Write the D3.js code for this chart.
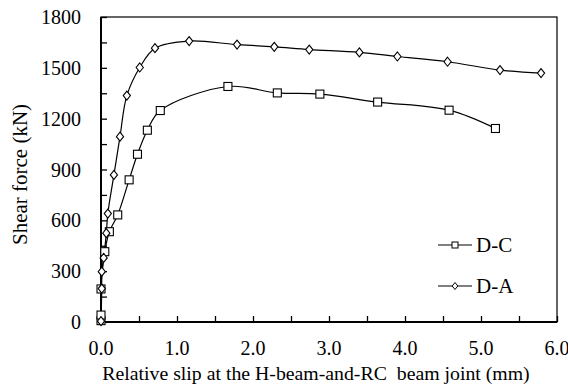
<!DOCTYPE html>
<html>
<head>
<meta charset="utf-8">
<script src="https://cdn.jsdelivr.net/npm/d3@7"></script>
<style>
  body { margin: 0; background: #fff; }
</style>
</head>
<body>
<svg width="568" height="389"></svg>
<script>
// D-A (diamonds)
var daSlip  = [0, 0.01, 0.01, 0.035, 0.07, 0.09, 0.17, 0.25, 0.34, 0.51, 0.71, 1.16, 1.79, 2.28, 2.74, 3.40, 3.90, 4.56, 5.25, 5.79];
var daForce = [5, 197, 297, 378, 524, 640, 868, 1094, 1336, 1502, 1616, 1658, 1637, 1624, 1608, 1591, 1567, 1536, 1487, 1469];
// D-C (squares)
var dcSlip  = [0, 0, 0, 0.05, 0.11, 0.22, 0.37, 0.48, 0.61, 0.78, 1.67, 2.32, 2.88, 3.64, 4.58, 5.19];
var dcForce = [8, 41, 195, 415, 533, 632, 839, 990, 1132, 1248, 1390, 1352, 1345, 1298, 1250, 1142];

var xTicks = [0, 1, 2, 3, 4, 5, 6];
var yTicks = [0, 300, 600, 900, 1200, 1500, 1800];

var serif = "'Liberation Serif', 'Times New Roman', serif";

var svg = d3.select("svg"),
    margin = {left: 101, right: 11, top: 17, bottom: 67},
    width = 568 - margin.left - margin.right,
    height = 389 - margin.top - margin.bottom;

var x = d3.scaleLinear().domain([0, 6]).range([0, width]);
var y = d3.scaleLinear().domain([0, 1800]).range([height, 0]);

var g = svg.append("g").attr("transform", "translate(" + margin.left + "," + margin.top + ")");

// frame
g.append("rect")
    .attr("width", width).attr("height", height)
    .attr("fill", "none").attr("stroke", "#000").attr("stroke-width", 1.2);

// minor + major ticks, pointing inward
g.append("g")
    .attr("transform", "translate(0," + height + ")")
    .call(d3.axisBottom(x).tickValues(d3.range(0, 6.01, 0.5)).tickSize(-6).tickFormat(""))
    .call(a => a.select(".domain").remove())
    .selectAll("line").attr("stroke-width", 1.3);
g.append("g")
    .call(d3.axisLeft(y).tickValues(d3.range(0, 1801, 150)).tickSize(-6).tickFormat(""))
    .call(a => a.select(".domain").remove())
    .selectAll("line").attr("stroke-width", 1.3);

// main axis lines
g.append("line").attr("x1", 0).attr("x2", width).attr("y1", height).attr("y2", height)
    .attr("stroke", "#000").attr("stroke-width", 2);
g.append("line").attr("x1", 0).attr("x2", 0).attr("y1", 0).attr("y2", height)
    .attr("stroke", "#000").attr("stroke-width", 2);

// tick labels
g.selectAll(".xl").data(xTicks).enter().append("text")
    .attr("x", d => x(d)).attr("y", height + 33)
    .attr("text-anchor", "middle")
    .style("font-family", serif).style("font-size", "20px")
    .text(d => d.toFixed(1));
g.selectAll(".yl").data(yTicks).enter().append("text")
    .attr("x", -20).attr("y", d => y(d) + 7)
    .attr("text-anchor", "end")
    .style("font-family", serif).style("font-size", "20px")
    .text(d => d);

// axis titles
svg.append("text")
    .attr("x", 316).attr("y", 380)
    .attr("text-anchor", "middle")
    .style("font-family", serif).style("font-size", "19.8px")
    .style("white-space", "pre")
    .text("Relative slip at the H-beam-and-RC  beam joint (mm)");
svg.append("text")
    .attr("transform", "translate(27," + (margin.top + height / 2 + 5) + ") rotate(-90)")
    .attr("text-anchor", "middle")
    .style("font-family", serif).style("font-size", "21px")
    .text("Shear force (kN)");

var line = d3.line()
    .x(d => x(d[0])).y(d => y(d[1]))
    .curve(d3.curveCatmullRom.alpha(0.5));

var da = d3.zip(daSlip, daForce), dc = d3.zip(dcSlip, dcForce);

[da, dc].forEach(function(s) {
    g.append("path").datum(s).attr("d", line)
        .attr("fill", "none").attr("stroke", "#000").attr("stroke-width", 1.2);
});

var diamond = function(cx, cy, r) {
    return "M" + cx + "," + (cy - r) + "L" + (cx + r * 0.8) + "," + cy + "L" + cx + "," + (cy + r) + "L" + (cx - r * 0.8) + "," + cy + "Z";
};

g.selectAll(".dc").data(dc).enter().append("rect")
    .attr("x", d => x(d[0]) - 4).attr("y", d => y(d[1]) - 4)
    .attr("width", 8).attr("height", 8)
    .attr("fill", "#fff").attr("stroke", "#000").attr("stroke-width", 1.1);
g.selectAll(".da").data(da).enter().append("path")
    .attr("d", d => diamond(x(d[0]), y(d[1]), 4.5))
    .attr("fill", "#fff").attr("stroke", "#000").attr("stroke-width", 1.1);

// legend
var leg = svg.append("g");
leg.append("line").attr("x1", 438).attr("x2", 472).attr("y1", 245).attr("y2", 245)
    .attr("stroke", "#000").attr("stroke-width", 1.2);
leg.append("rect").attr("x", 452).attr("y", 242).attr("width", 6).attr("height", 6)
    .attr("fill", "#fff").attr("stroke", "#000");
leg.append("text").attr("x", 476).attr("y", 252)
    .style("font-family", serif).style("font-size", "21px").text("D-C");
leg.append("line").attr("x1", 438).attr("x2", 472).attr("y1", 286).attr("y2", 286)
    .attr("stroke", "#000").attr("stroke-width", 1.2);
leg.append("path").attr("d", diamond(455, 286, 3.5))
    .attr("fill", "#fff").attr("stroke", "#000");
leg.append("text").attr("x", 476).attr("y", 293)
    .style("font-family", serif).style("font-size", "21px").text("D-A");
</script>
</body>
</html>
